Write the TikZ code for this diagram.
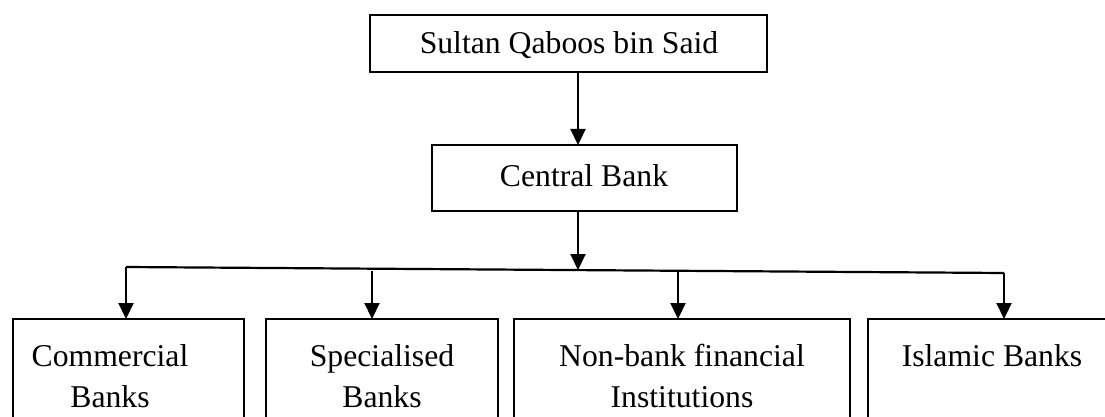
\documentclass[tikz,border=0pt]{standalone}
\usepackage{fontspec}
\setmainfont{Liberation Serif}
\usetikzlibrary{arrows.meta,calc}
\begin{document}
\begin{tikzpicture}[x=1pt,y=-1pt,
  box/.style={draw,line width=1.8pt,inner sep=0pt,outer sep=0pt,anchor=north west},
  lbl/.style={font=\fontsize{31.7}{41}\selectfont,inner sep=0pt,align=center,anchor=base},
  arr/.style={line width=2.2pt,-{Triangle[length=16pt,width=15pt]}},
  ln/.style={line width=2.2pt}]
\useasboundingbox (0,0) rectangle (1105,417);
\clip (0,0) rectangle (1105,417);
% boxes
\node[box,minimum width=397pt,minimum height=57pt] (top) at (370,15) {};
\node[box,minimum width=305pt,minimum height=66pt] (cb) at (432,145) {};
\node[box,minimum width=231pt,minimum height=130pt] (com) at (13,319) {};
\node[box,minimum width=232pt,minimum height=130pt] (spec) at (266,319) {};
\node[box,minimum width=336pt,minimum height=130pt] (nb) at (514,319) {};
\node[box,minimum width=260pt,minimum height=130pt] (isl) at (868,319) {};
% labels
\node[lbl] (ttop) at (569,54) {Sultan Qaboos bin Said};
\node[lbl] (tcb) at (584,186) {Central Bank};
\node[lbl] (tcom) at (110,407) {Commercial\\Banks};
\node[lbl] (tspec) at (382,407) {Specialised\\Banks};
\node[lbl] (tnb) at (682,407) {Non-bank financial\\Institutions};
\node[lbl] (tisl) at (992,366) {Islamic Banks};
% connectors
\coordinate (j0) at (578,270);
\coordinate (bL) at (126,267);
\coordinate (bR) at (1004,273);
\coordinate (d2) at (372,271);
\coordinate (d3) at (678,272);
\draw[arr] (top.south -| j0) -- (cb.north -| j0);
\draw[arr] (cb.south -| j0) -- (j0);
\draw[ln] (bL) -- (bR);
\draw[arr] (bL) -- (com.north -| bL);
\draw[arr] (d2) -- (spec.north -| d2);
\draw[arr] (d3) -- (nb.north -| d3);
\draw[arr] (bR) -- (isl.north -| bR);
\end{tikzpicture}
\end{document}
